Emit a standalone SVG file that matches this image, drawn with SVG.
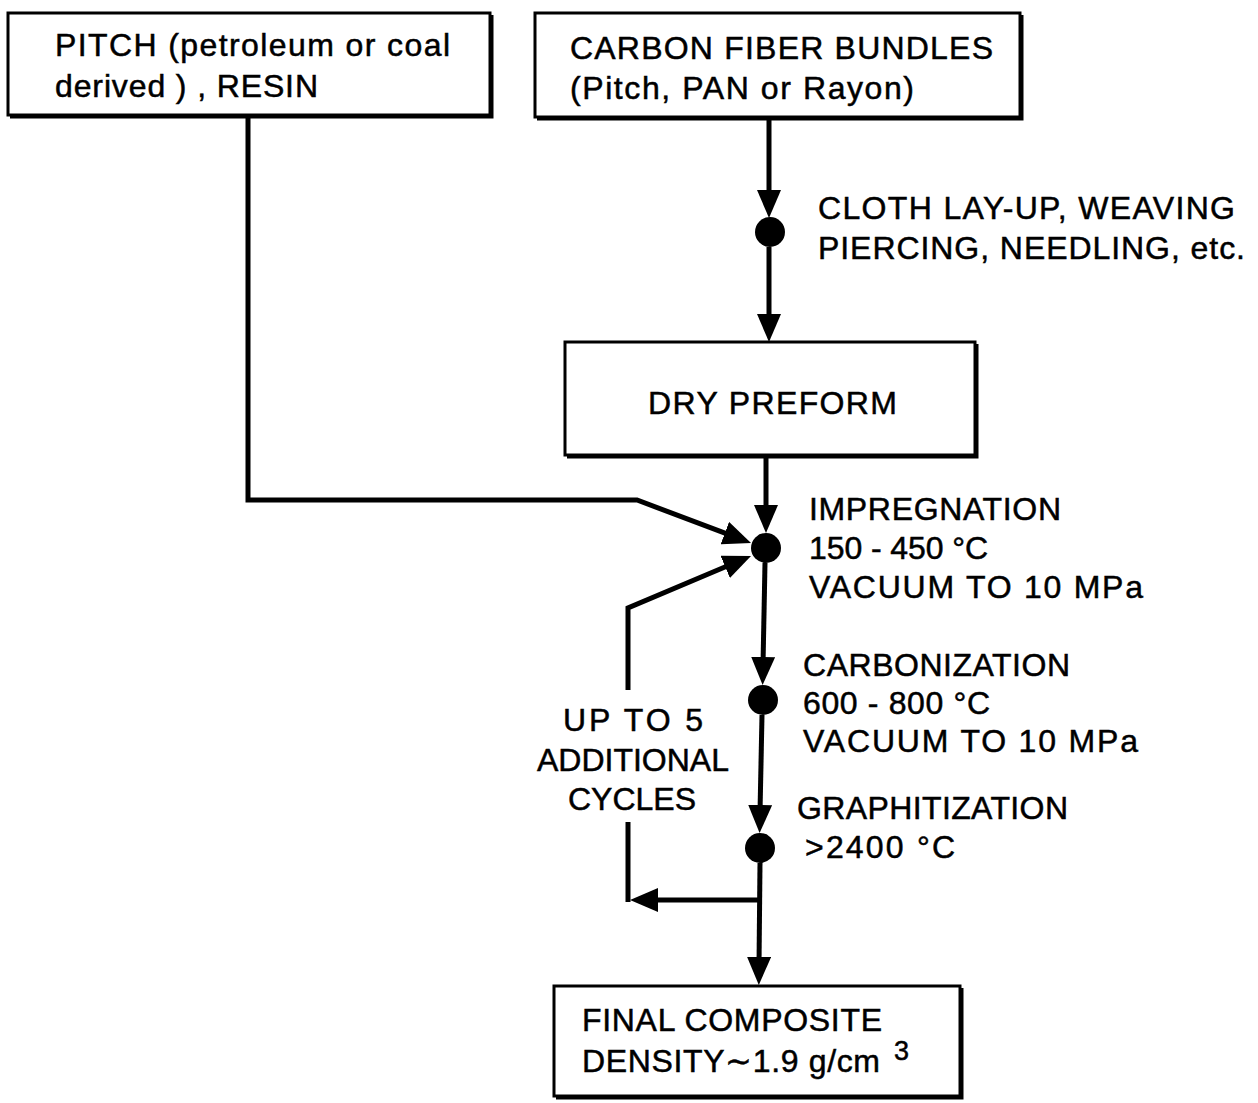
<svg xmlns="http://www.w3.org/2000/svg" width="1258" height="1103" viewBox="0 0 1258 1103">
<defs>
<style>
.box{fill:#fff;stroke:#000;stroke-width:3}
.shadow{fill:none;stroke:#000;stroke-width:3}
.t{font-family:"Liberation Sans",Arial,sans-serif;font-size:32px;fill:#000;stroke:#000;stroke-width:0.5}
.c{fill:none;stroke:#000;stroke-width:5}
.dot{fill:#000}
</style>
<marker id="ah" viewBox="0 0 28 24" refX="8" refY="12" markerWidth="28" markerHeight="24" markerUnits="userSpaceOnUse" orient="auto">
<path d="M0,0 L28,12 L0,24 z" fill="#000"/>
</marker>
</defs>
<rect width="1258" height="1103" fill="#fff"/>

<g id="connectors">
<line class="c" x1="769" y1="118" x2="769" y2="198" marker-end="url(#ah)"/>
<line class="c" x1="769" y1="247" x2="769" y2="322" marker-end="url(#ah)"/>
<line class="c" x1="766" y1="457" x2="766" y2="513" marker-end="url(#ah)"/>
<polyline class="c" points="248,117 248,500 637,500 732.3,535.9" marker-end="url(#ah)"/>
<line class="c" x1="765" y1="563" x2="763" y2="665" marker-end="url(#ah)"/>
<line class="c" x1="762" y1="715" x2="760" y2="813" marker-end="url(#ah)"/>
<line class="c" x1="760" y1="863" x2="759" y2="965" marker-end="url(#ah)"/>
<line class="c" x1="760" y1="900" x2="650" y2="900" marker-end="url(#ah)"/>
<line class="c" x1="628" y1="902" x2="628" y2="822"/>
<polyline class="c" points="628,690 628,608 732.6,563.8" marker-end="url(#ah)"/>
</g>

<g id="pitch">
<rect class="box" x="8" y="13" width="482" height="102"/>
<path class="shadow" d="M492,15 V117 H10"/>
<text class="t" x="55" y="56" textLength="395" lengthAdjust="spacing">PITCH (petroleum or coal</text>
<text class="t" x="55" y="97" textLength="263" lengthAdjust="spacing">derived ) , RESIN</text>
</g>

<g id="fibers">
<rect class="box" x="535" y="13" width="485" height="104"/>
<path class="shadow" d="M1022,15 V119 H537"/>
<text class="t" x="570" y="59" textLength="423" lengthAdjust="spacing">CARBON FIBER BUNDLES</text>
<text class="t" x="570" y="99" textLength="344" lengthAdjust="spacing">(Pitch, PAN or Rayon)</text>
</g>

<g id="weaving">
<circle class="dot" cx="770" cy="232" r="15"/>
<text class="t" x="818" y="219" textLength="417" lengthAdjust="spacing">CLOTH LAY-UP, WEAVING</text>
<text class="t" x="818" y="259" textLength="427" lengthAdjust="spacing">PIERCING, NEEDLING, etc.</text>
</g>

<g id="preform">
<rect class="box" x="565" y="342" width="410" height="113"/>
<path class="shadow" d="M977,344 V457 H567"/>
<text class="t" x="648" y="414" textLength="249" lengthAdjust="spacing">DRY PREFORM</text>
</g>

<g id="impregnation">
<circle class="dot" cx="766" cy="548" r="15"/>
<text class="t" x="809" y="520" textLength="252" lengthAdjust="spacing">IMPREGNATION</text>
<text class="t" x="809" y="559" textLength="179" lengthAdjust="spacing">150 - 450 °C</text>
<text class="t" x="809" y="598" textLength="334" lengthAdjust="spacing">VACUUM TO 10 MPa</text>
</g>

<g id="carbonization">
<circle class="dot" cx="763" cy="700" r="15"/>
<text class="t" x="803" y="676" textLength="267" lengthAdjust="spacing">CARBONIZATION</text>
<text class="t" x="803" y="714" textLength="187" lengthAdjust="spacing">600 - 800 °C</text>
<text class="t" x="803" y="752" textLength="335" lengthAdjust="spacing">VACUUM TO 10 MPa</text>
</g>

<g id="graphitization">
<circle class="dot" cx="760" cy="848" r="15"/>
<text class="t" x="797" y="819" textLength="271" lengthAdjust="spacing">GRAPHITIZATION</text>
<text class="t" x="805" y="858" textLength="150" lengthAdjust="spacing">&gt;2400 °C</text>
</g>

<g id="cycles">
<text class="t" x="563" y="731" textLength="140" lengthAdjust="spacing">UP TO 5</text>
<text class="t" x="537" y="771" textLength="192" lengthAdjust="spacing">ADDITIONAL</text>
<text class="t" x="568" y="810" textLength="128" lengthAdjust="spacing">CYCLES</text>
</g>

<g id="final">
<rect class="box" x="554" y="986" width="406" height="110"/>
<path class="shadow" d="M962,988 V1098 H556"/>
<text class="t" x="582" y="1031" textLength="300" lengthAdjust="spacing">FINAL COMPOSITE</text>
<text class="t" x="582" y="1072" textLength="298" lengthAdjust="spacing">DENSITY∼1.9 g/cm</text>
<text class="t" x="894" y="1060" style="font-size:27px">3</text>
</g>
</svg>
